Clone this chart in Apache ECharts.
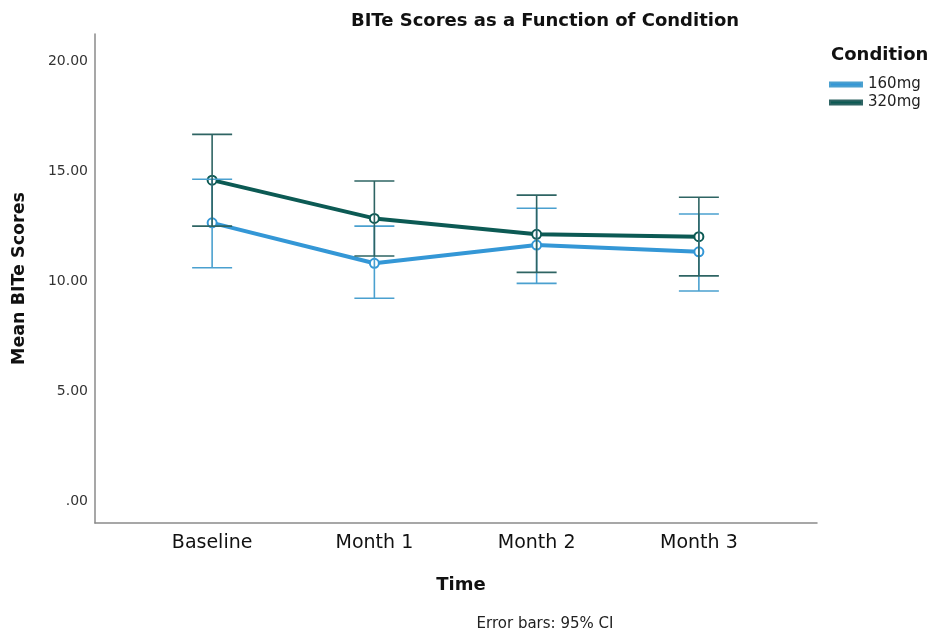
<!DOCTYPE html>
<html>
<head>
<meta charset="utf-8">
<title>BITe Scores as a Function of Condition</title>
<script src="https://cdn.jsdelivr.net/npm/echarts@6.0.0/dist/echarts.min.js"></script>
<style>
  html, body { margin: 0; padding: 0; background: #ffffff; }
  #chart { width: 931px; height: 636px; }
</style>
</head>
<body>
<div id="chart"></div>
<script>
// Time points on the x axis
const categories = ['Baseline', 'Month 1', 'Month 2', 'Month 3'];

// Mean BITe scores per condition
const mean160 = [12.67, 10.83, 11.66, 11.35];
const mean320 = [14.61, 12.87, 12.15, 12.04];

// 95% confidence interval bounds
const lower160 = [10.63, 9.24, 9.92, 9.57];
const upper160 = [14.65, 12.52, 13.33, 13.07];
const lower320 = [12.52, 11.16, 10.42, 10.26];
const upper320 = [16.69, 14.57, 13.93, 13.83];

// Value axis labels
const yTicks = [0, 5, 10, 15, 20];

const color160 = '#3497d6';
const color320 = '#0c5a54';
const bar160 = '#4aa0cf';
const bar320 = '#2e6463';

const FONT = '"DejaVu Sans", sans-serif';
const Y_MIN = -0.97, Y_MAX = 21.25;
const GRID_TOP = 34, GRID_BOTTOM = 113;

function ciData(lo, hi) {
  return categories.map((c, i) => [i, lo[i], hi[i]]);
}

function errorBar(color) {
  return function (params, api) {
    const x = api.value(0);
    const pLo = api.coord([x, api.value(1)]);
    const pHi = api.coord([x, api.value(2)]);
    const half = 20;
    const style = { stroke: color, lineWidth: 1.6 };
    return {
      type: 'group',
      children: [
        { type: 'line', shape: { x1: pLo[0], y1: pLo[1], x2: pHi[0], y2: pHi[1] }, style },
        { type: 'line', shape: { x1: pHi[0] - half, y1: pHi[1], x2: pHi[0] + half, y2: pHi[1] }, style },
        { type: 'line', shape: { x1: pLo[0] - half, y1: pLo[1], x2: pLo[0] + half, y2: pLo[1] }, style }
      ]
    };
  };
}

const chart = echarts.init(document.getElementById('chart'), null, { renderer: 'canvas' });

chart.setOption({
  backgroundColor: '#ffffff',
  animation: false,
  title: [
    {
      text: 'BITe Scores as a Function of Condition',
      left: 540, top: 7, textAlign: 'center',
      textStyle: { fontFamily: FONT, fontWeight: 'bold', fontSize: 18, color: '#111' }
    },
    {
      text: 'Condition',
      left: 826, top: 41,
      textStyle: { fontFamily: FONT, fontWeight: 'bold', fontSize: 18, color: '#111' }
    },
    {
      text: 'Time',
      left: 456, top: 571, textAlign: 'center',
      textStyle: { fontFamily: FONT, fontWeight: 'bold', fontSize: 18, color: '#111' }
    },
    {
      text: 'Error bars: 95% CI',
      left: 540, top: 612, textAlign: 'center',
      textStyle: { fontFamily: FONT, fontWeight: 'normal', fontSize: 15, color: '#222' }
    }
  ],
  legend: {
    orient: 'vertical',
    left: 824, top: 72,
    itemWidth: 32, itemHeight: 4, itemGap: 3,
    icon: 'rect',
    textStyle: { fontFamily: FONT, fontSize: 15, color: '#222', padding: [0, 0, 0, 1] },
    data: ['160mg', '320mg']
  },
  grid: [
    // frame grid carrying the visible axis lines
    { left: 95, right: 114, top: GRID_TOP, bottom: GRID_BOTTOM, containLabel: false },
    // data grid whose category bands are centred on the time points
    { left: 131, right: 151, top: GRID_TOP, bottom: GRID_BOTTOM, containLabel: false }
  ],
  xAxis: [
    {
      gridIndex: 0, type: 'value', min: 0, max: 1,
      axisLine: { show: true, onZero: false, lineStyle: { color: '#8a8a8a', width: 1.5 } },
      axisTick: { show: false }, axisLabel: { show: false }, splitLine: { show: false }
    },
    {
      gridIndex: 1, type: 'category', data: categories, boundaryGap: true,
      axisLine: { show: false, onZero: false }, axisTick: { show: false }, splitLine: { show: false },
      axisLabel: { fontFamily: FONT, fontSize: 19, color: '#111', margin: 11 }
    }
  ],
  yAxis: [
    {
      gridIndex: 0, type: 'value', min: Y_MIN, max: Y_MAX,
      axisLine: { show: true, onZero: false, lineStyle: { color: '#8a8a8a', width: 1.5 } },
      axisTick: { show: false }, splitLine: { show: false },
      axisLabel: {
        customValues: yTicks,
        fontFamily: FONT, fontSize: 14, color: '#333', margin: 7,
        formatter: v => (v === 0 ? '.00' : v.toFixed(2))
      },
      name: 'Mean BITe Scores', nameLocation: 'middle', nameGap: 67, nameRotate: 90,
      nameTextStyle: { fontFamily: FONT, fontWeight: 'bold', fontSize: 17.5, color: '#111' }
    },
    {
      gridIndex: 1, type: 'value', min: Y_MIN, max: Y_MAX, show: false
    }
  ],
  series: [
    {
      name: '160mg', type: 'line', xAxisIndex: 1, yAxisIndex: 1,
      data: mean160, color: color160,
      lineStyle: { width: 4, color: color160 },
      symbol: 'emptyCircle', symbolSize: 9,
      itemStyle: { color: color160, borderColor: bar160, borderWidth: 1.5 },
      z: 3
    },
    {
      name: '320mg', type: 'line', xAxisIndex: 1, yAxisIndex: 1,
      data: mean320, color: color320,
      lineStyle: { width: 4, color: color320 },
      symbol: 'emptyCircle', symbolSize: 9,
      itemStyle: { color: color320, borderColor: bar320, borderWidth: 1.5 },
      z: 4
    },
    {
      name: '160mg CI', type: 'custom', xAxisIndex: 1, yAxisIndex: 1,
      data: ciData(lower160, upper160), renderItem: errorBar(bar160), z: 5,
      encode: { x: 0, y: [1, 2] }
    },
    {
      name: '320mg CI', type: 'custom', xAxisIndex: 1, yAxisIndex: 1,
      data: ciData(lower320, upper320), renderItem: errorBar(bar320), z: 6,
      encode: { x: 0, y: [1, 2] }
    }
  ]
});
</script>
</body>
</html>
